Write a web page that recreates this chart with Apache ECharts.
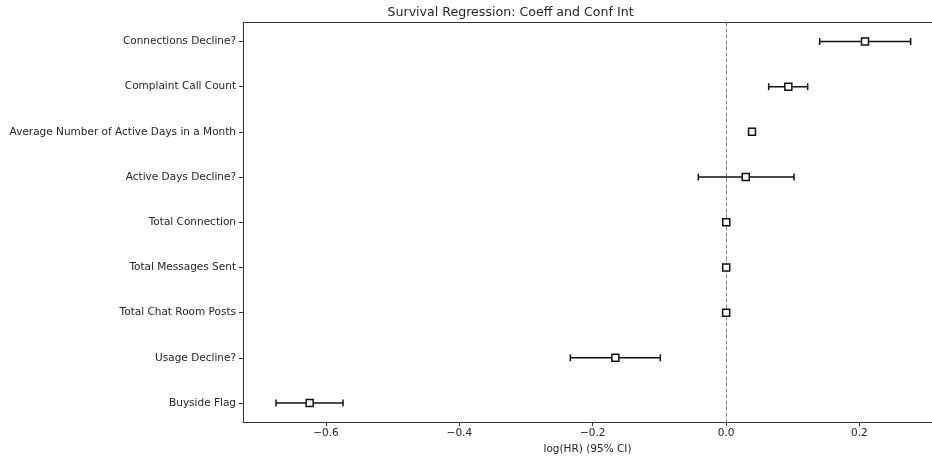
<!DOCTYPE html>
<html>
<head>
<meta charset="utf-8">
<script src="https://cdn.jsdelivr.net/npm/echarts@6/dist/echarts.min.js"></script>
<style>html,body{margin:0;padding:0;background:#fff;}#chart{width:932px;height:458px;}</style>
</head>
<body>
<div id="chart"></div>
<script>
const categories = ['Connections Decline?', 'Complaint Call Count', 'Average Number of Active Days in a Month', 'Active Days Decline?', 'Total Connection', 'Total Messages Sent', 'Total Chat Room Posts', 'Usage Decline?', 'Buyside Flag'];
const coef  = [0.2085, 0.0935, 0.0390, 0.0296, 0.0004, 0.0003, 0.0002, -0.1660, -0.6245];
const lower = [0.1405, 0.0640, 0.0360, -0.0415, 0.0001, 0.0001, 0.0000, -0.2335, -0.6750];
const upper = [0.2770, 0.1225, 0.0420, 0.1020, 0.0007, 0.0005, 0.0004, -0.0985, -0.5745];
const xTicks = [-0.6, -0.4, -0.2, 0.0, 0.2];
const title = 'Survival Regression: Coeff and Conf Int';
const xName = 'log(HR) (95% CI)';

const font = 'DejaVu Sans';
const rowIdx = categories.map((c, i) => i);
const chart = echarts.init(document.getElementById('chart'), null, {renderer: 'canvas'});
const fmt = v => (v < 0 ? '\u2212' : '') + Math.abs(v).toFixed(1);

chart.setOption({
  animation: false,
  backgroundColor: '#fff',
  graphic: [{
    type: 'text', left: 587.5 - 200, top: 6,
    style: {text: title, font: '12.6px "DejaVu Sans"', fill: '#262626', width: 400, align: 'center'}
  }],
  grid: {left: 243, top: 22.5, width: 689, height: 399.5, show: false, containLabel: false, outerBoundsMode: 'none'},
  xAxis: [{
    type: 'value', min: -0.7245, max: 0.309,
    splitLine: {show: false},
    axisLine: {show: true, onZero: false, lineStyle: {color: '#333', width: 1}},
    axisTick: {show: true, length: 4, lineStyle: {color: '#333'}, customValues: xTicks},
    axisLabel: {customValues: xTicks, formatter: fmt, fontFamily: font, fontSize: 10.5, color: '#262626', margin: 6},
    name: xName, nameLocation: 'middle', nameGap: 22,
    nameTextStyle: {fontFamily: font, fontSize: 10.5, color: '#262626'}
  }, {
    type: 'value', position: 'top', min: -0.7245, max: 0.309,
    splitLine: {show: false},
    axisLine: {show: true, onZero: false, lineStyle: {color: '#333', width: 1}},
    axisTick: {show: false}, axisLabel: {show: false}
  }],
  yAxis: {
    type: 'value', inverse: true, min: -0.42, max: 8.42,
    splitLine: {show: false},
    axisLine: {show: true, onZero: false, lineStyle: {color: '#333', width: 1}},
    axisTick: {show: true, length: 4, lineStyle: {color: '#333'}, customValues: rowIdx},
    axisLabel: {customValues: rowIdx, formatter: v => categories[Math.round(v)], fontFamily: font, fontSize: 10.5, color: '#262626', margin: 7}
  },
  series: [
    {
      type: 'custom',
      z: 3,
      silent: true,
      encode: {x: [0, 1], y: 2},
      data: rowIdx.map(i => [lower[i], upper[i], i]),
      renderItem: function (params, api) {
        const p0 = api.coord([api.value(0), api.value(2)]);
        const p1 = api.coord([api.value(1), api.value(2)]);
        const h = 3.5;
        const st = {stroke: '#111', lineWidth: 1.5, fill: null};
        return {type: 'group', children: [
          {type: 'line', shape: {x1: p0[0], y1: p0[1], x2: p1[0], y2: p1[1]}, style: st},
          {type: 'line', shape: {x1: p0[0], y1: p0[1] - h, x2: p0[0], y2: p0[1] + h}, style: st},
          {type: 'line', shape: {x1: p1[0], y1: p1[1] - h, x2: p1[0], y2: p1[1] + h}, style: st}
        ]};
      }
    },
    {
      type: 'scatter',
      z: 4,
      symbol: 'rect', symbolSize: 7,
      itemStyle: {color: '#fff', borderColor: '#111', borderWidth: 1.5, opacity: 1},
      data: rowIdx.map(i => [coef[i], i]),
      markLine: {
        silent: true, symbol: 'none', z: 2,
        label: {show: false},
        lineStyle: {type: [4, 2], color: '#808080', width: 1},
        data: [{xAxis: 0}]
      }
    }
  ]
});
</script>
</body>
</html>
